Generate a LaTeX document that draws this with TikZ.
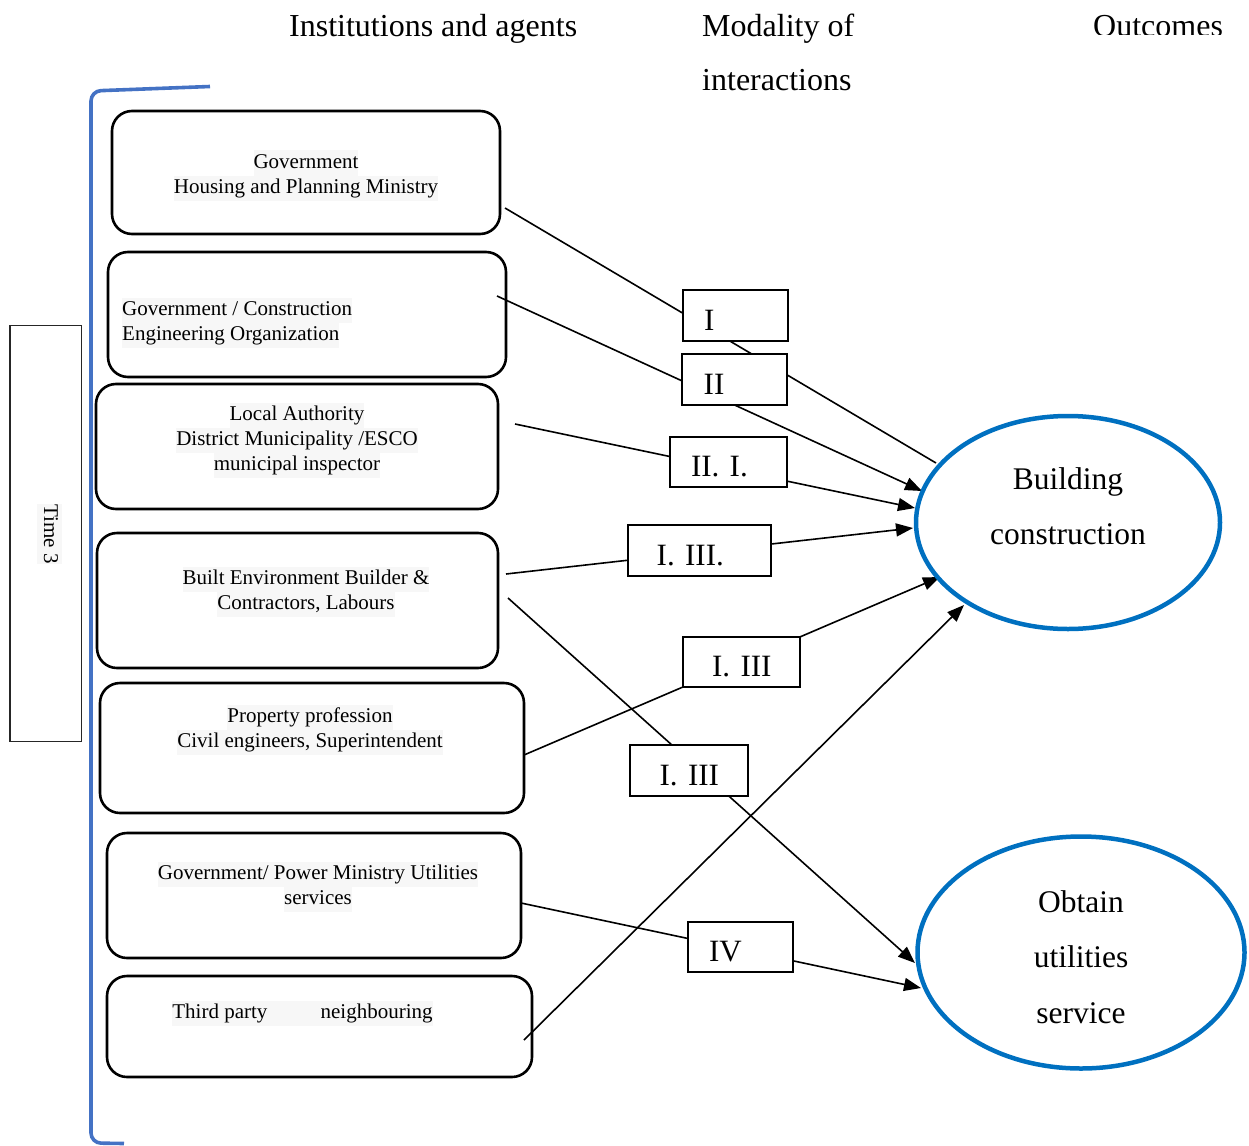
\documentclass[tikz,border=0pt]{standalone}
\usepackage{fontspec}
\setmainfont{Liberation Serif}
\usetikzlibrary{shapes.geometric,arrows.meta}

\definecolor{bracketblue}{HTML}{4472C4}
\definecolor{outblue}{HTML}{0070C0}
\definecolor{hl}{HTML}{F7F7F7}
% light shading behind each line of agent text
\newcommand\hlline[1]{{\setlength{\fboxsep}{0pt}\colorbox{hl}{\strut #1}}}

\tikzset{
  agent/.style={draw, line width=2.6pt, rounded corners=20pt, inner sep=0pt},
  agtext/.style={font=\fontsize{21}{25}\selectfont, align=center, inner sep=0pt},
  mode/.style={draw, line width=2pt, fill=white, inner ysep=0pt,
    text height=40pt, text depth=10.5pt, anchor=north west,
    font=\fontsize{31}{36}\selectfont, align=left},
  head/.style={font=\fontsize{32}{38}\selectfont, anchor=base west, inner sep=0pt},
  outcome/.style={ellipse, draw=outblue, line width=4.5pt, inner sep=0pt},
  outtext/.style={font=\fontsize{31.5}{55.5}\selectfont, align=center, inner sep=0pt},
  link/.style={line width=1.6pt},
  arrowlink/.style={link, -{Triangle[length=17pt,width=13pt]}},
}

\begin{document}
\begin{tikzpicture}[x=1pt, y=-1pt]
\useasboundingbox (0,0) rectangle (1249,1145);

% column headings
\node[head] (h1) at (289,36.5) {Institutions and agents};
\node[head] (h2) at (702,36.5) {Modality of};
\node[head] (h2b) at (702,90.5) {interactions};
\begin{scope}
  \clip (1080,0) rectangle (1249,34.5);
  \node[head] (h3) at (1093,36.5) {Outcomes};
\end{scope}

% time bracket
\draw[bracketblue, line width=3.6pt, rounded corners=10pt]
  (210,86.5) -- (91,91) -- (91,1143) -- (124,1143.5);
\node[draw=black!85, line width=1.2pt, minimum width=71.5pt, minimum height=416.5pt, inner sep=0pt]
  (time) at (45.8,533.5) {};
\node[font=\fontsize{21}{25}\selectfont, rotate=-90, inner sep=0pt] (timetext) at (49,534) {\hlline{Time 3}};

% institutions and agents
\node[agent, minimum width=388pt, minimum height=123pt] (b1) at (306,172.5) {};
\node[agtext] (t1) at (306,175.5) {\hlline{Government}\\\hlline{Housing and Planning Ministry}};

\node[agent, minimum width=398pt, minimum height=125pt] (b2) at (307,314.5) {};
\node[agtext, align=left, anchor=west] (t2) at (122,322.5) {\hlline{Government / Construction}\\\hlline{Engineering Organization}};

\node[agent, minimum width=402pt, minimum height=125pt] (b3) at (297,446.5) {};
\node[agtext] (t3) at (297,440) {\hlline{Local Authority}\\\hlline{District Municipality /ESCO}\\\hlline{municipal inspector}};

\node[agent, minimum width=401pt, minimum height=135pt] (b4) at (297.5,600.5) {};
\node[agtext] (t4) at (306,591.5) {\hlline{Built Environment Builder \&}\\\hlline{Contractors, Labours}};

\node[agent, minimum width=424pt, minimum height=130pt] (b5) at (312,748) {};
\node[agtext] (t5) at (310,729.5) {\hlline{Property profession}\\\hlline{Civil engineers, Superintendent}};

\node[agent, minimum width=414pt, minimum height=125pt] (b6) at (314,895.5) {};
\node[agtext] (t6) at (318,886.5) {\hlline{Government/ Power Ministry Utilities}\\\hlline{services}};

\node[agent, minimum width=425pt, minimum height=101pt] (b7) at (319.5,1026.5) {};
\node[agtext] (t7) at (302.5,1013.3) {\hlline{Third party\hspace{48pt} neighbouring}};

% connector end points
\coordinate (s1) at (505,208);  \coordinate (e1) at (936,463);
\coordinate (s2) at (497,296);  \coordinate (e2) at (922,491);
\coordinate (s3) at (515,424);  \coordinate (e3) at (915,508);
\coordinate (s4) at (506,574);  \coordinate (e4) at (913,528);
\coordinate (s5) at (524,755);  \coordinate (e5) at (940,577);
\coordinate (s6) at (508,598);  \coordinate (e6) at (915,963);
\coordinate (s7) at (521,903);  \coordinate (e7) at (921,988);
\coordinate (s8) at (524,1040); \coordinate (e8) at (964,605);

\draw[link] (s1) -- (e1);
\draw[arrowlink] (s2) -- (e2);
\draw[arrowlink] (s3) -- (e3);
\draw[arrowlink] (s4) -- (e4);
\draw[arrowlink] (s5) -- (e5);
\draw[arrowlink] (s6) -- (e6);
\draw[arrowlink] (s7) -- (e7);
\draw[arrowlink] (s8) -- (e8);

% modality of interactions
\node[mode, text width=62.3pt, inner xsep=21.3pt] (m1) at (681.7,289.3) {I};
\node[mode, text width=61.3pt, inner xsep=21.7pt] (m2) at (681,353.3) {II};
\node[mode, text width=75pt, inner xsep=21pt] (m3) at (669,435.7) {II. I.};
\node[mode, text width=85.3pt, inner xsep=29pt] (m4) at (626.7,524.3) {I. III.};
\node[mode, text width=97pt, inner xsep=10pt, align=center] (m5) at (682.3,635.7) {I. III};
\node[mode, text width=98pt, inner xsep=10pt, align=center] (m6) at (629.3,744) {I. III};
\node[mode, text width=63pt, inner xsep=20.7pt] (m7) at (687.3,920.7) {IV};

% outcomes
\node[outcome, minimum width=304pt, minimum height=213pt] (o1) at (1068,522.5) {};
\node[outtext] (o1t) at (1068,506) {Building\\construction};
\node[outcome, minimum width=327pt, minimum height=232pt] (o2) at (1081,952.5) {};
\node[outtext] (o2t) at (1081,957) {Obtain\\utilities\\service};
\end{tikzpicture}
\end{document}
